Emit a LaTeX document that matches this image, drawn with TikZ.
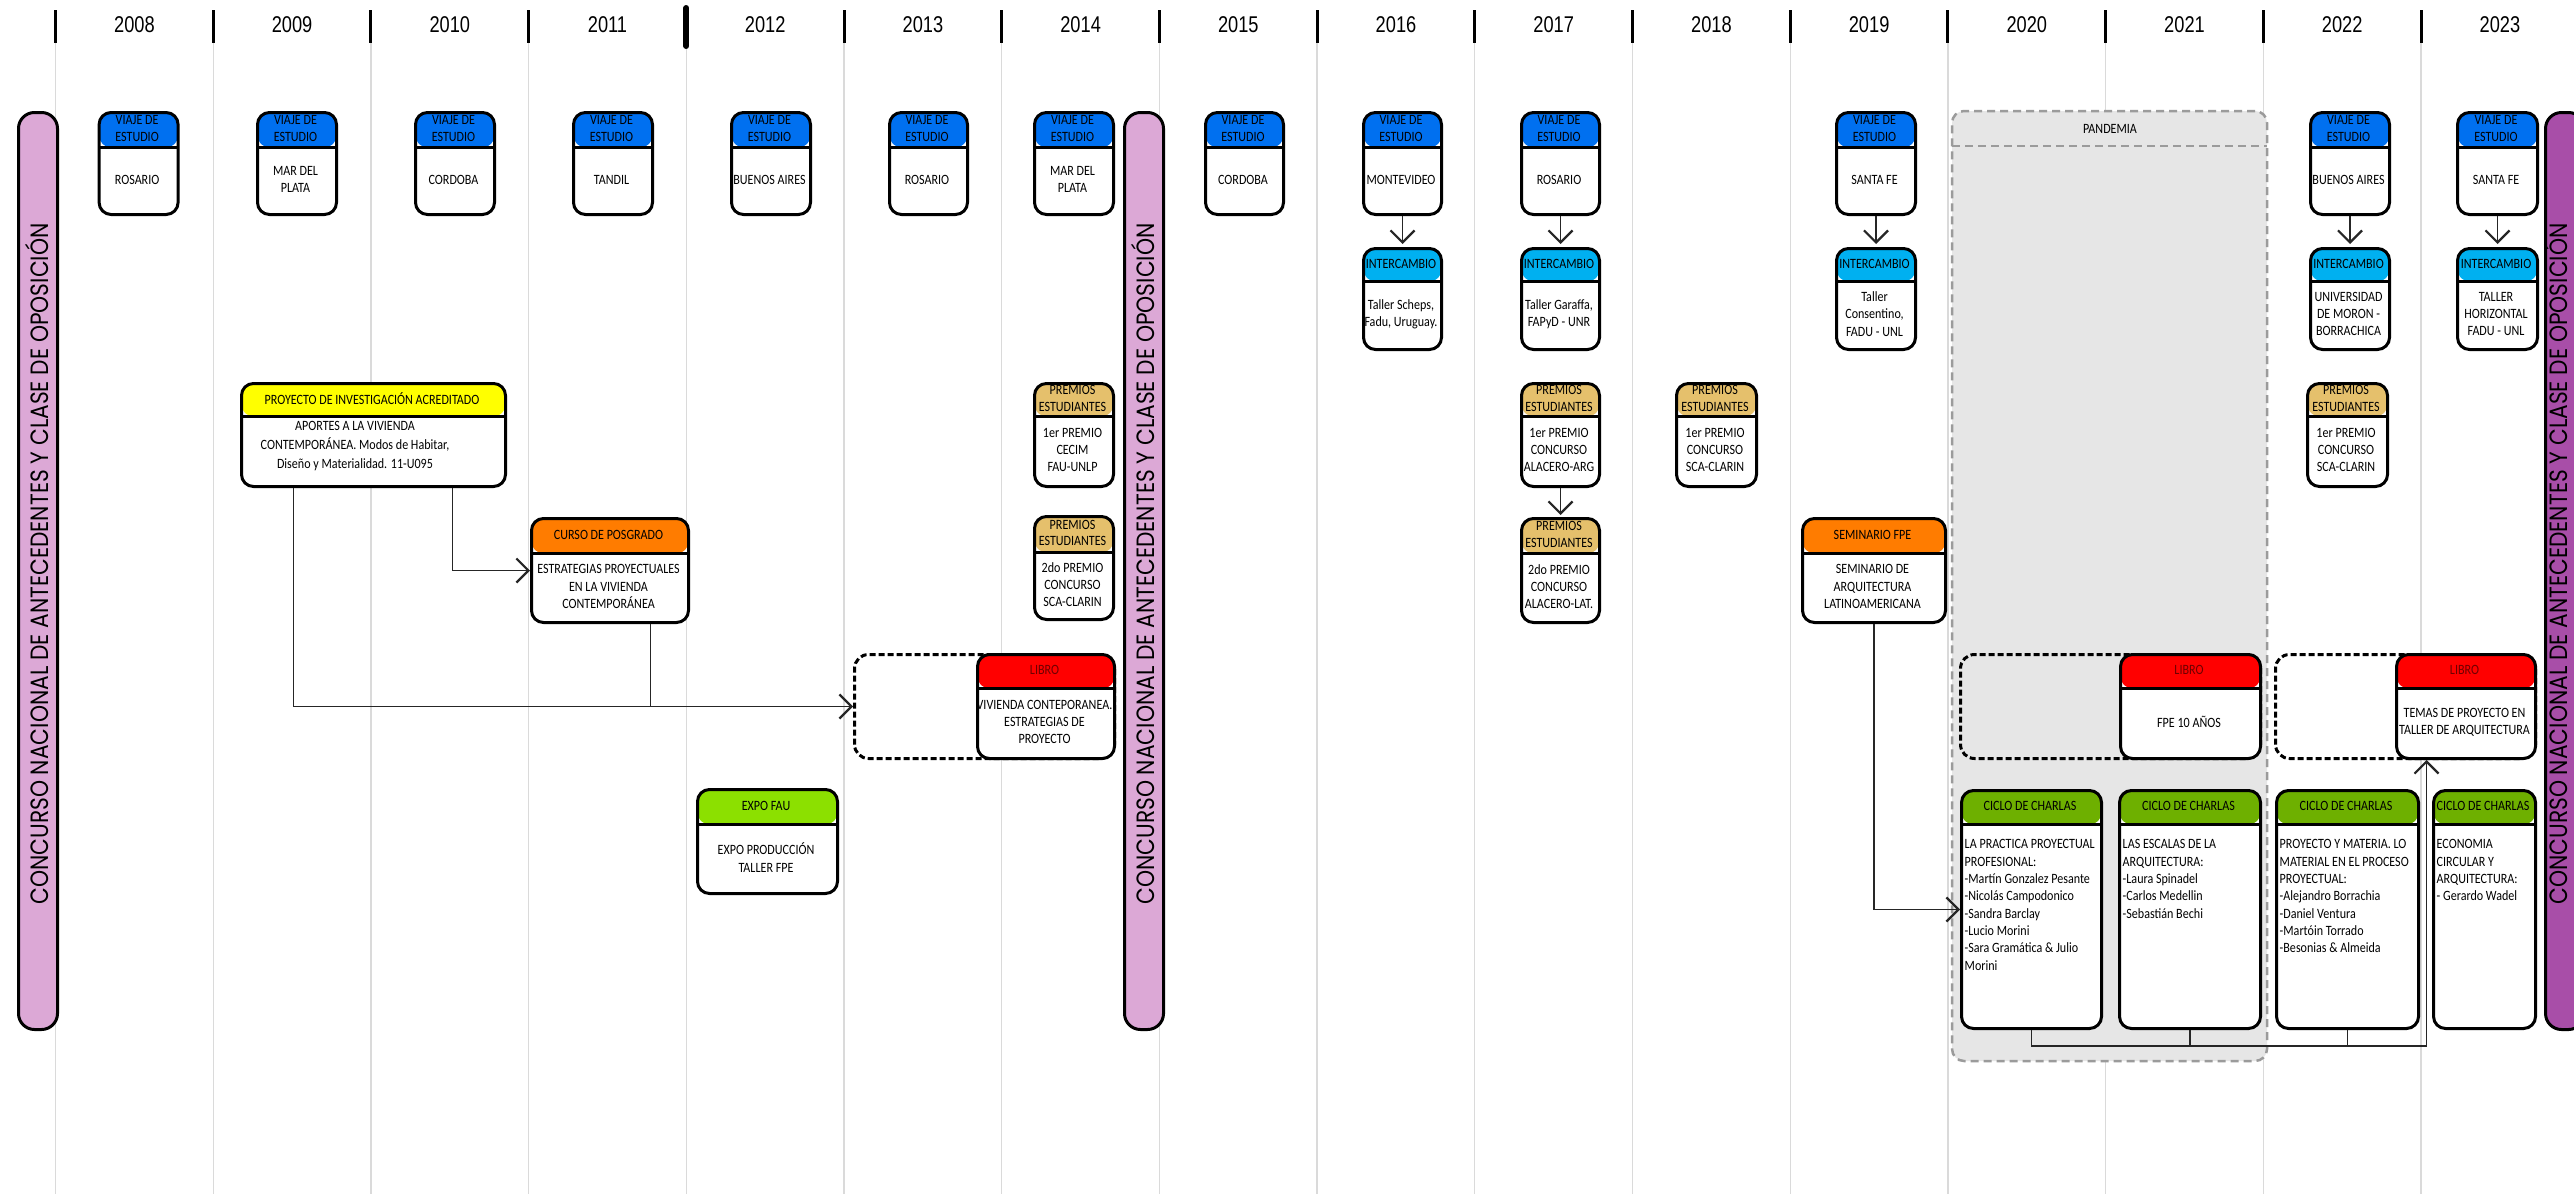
\documentclass[tikz,border=0pt]{standalone}
\usepackage{fontspec}
\setmainfont{Carlito}[FakeStretch=0.85]
\newfontfamily\yearfont{Liberation Sans}[FakeStretch=0.8]
\newfontfamily\vfont{Poppins}[FakeStretch=0.87]
\usetikzlibrary{arrows.meta,calc}
\definecolor{cviaje}{RGB}{0,112,240}
\definecolor{cinter}{RGB}{0,176,240}
\definecolor{cpremio}{RGB}{229,192,108}
\definecolor{cyellow}{RGB}{255,255,0}
\definecolor{corange}{RGB}{255,124,0}
\definecolor{cred}{RGB}{255,0,0}
\definecolor{cexpo}{RGB}{140,224,0}
\definecolor{cciclo}{RGB}{110,176,0}
\definecolor{cbarA}{RGB}{220,168,214}
\definecolor{cbarB}{RGB}{168,78,168}
\definecolor{cpandfill}{RGB}{230,230,230}
\definecolor{cpanddraw}{RGB}{155,155,155}
\definecolor{cgrid}{RGB}{218,218,218}
\definecolor{clibtext}{RGB}{110,0,0}
\tikzset{
  tbox/.style={draw=black, line width=3pt, rounded corners=12pt, fill=white, inner sep=0pt, anchor=north west},
  htext/.style={font=\fontsize{14.2}{16.8}\selectfont, align=center, inner sep=0pt},
  btext/.style={font=\fontsize{14.2}{17.3}\selectfont, align=center, inner sep=0pt},
  ltext/.style={font=\fontsize{14.2}{17.3}\selectfont, align=left, inner sep=0pt, anchor=north west},
  conn/.style={draw=black!85, line width=1.3pt},
  arr/.style={-{Straight Barb[length=12pt,width=24pt,line width=2.2pt]}},
  dbox/.style={draw=black, line width=3pt, dash pattern=on 6pt off 3pt, rounded corners=14pt, inner sep=0pt, anchor=north west},
  vbar/.style={draw=black, line width=3pt, rounded corners=16pt, inner sep=0pt, anchor=north west, minimum width=39pt, minimum height=917pt},
  vtext/.style={font=\vfont\fontsize{25}{25}\selectfont, rotate=90, inner sep=0pt},
  yearlab/.style={font=\yearfont\fontsize{22.8}{24}\selectfont, inner sep=0pt},
  gridline/.style={draw=cgrid, line width=1.3pt},
  tickline/.style={draw=black, line width=3pt},
  bigtick/.style={draw=black, line width=6pt, line cap=round},
  pandbox/.style={draw=cpanddraw, fill=cpandfill, line width=2.5pt, dash pattern=on 8pt off 5pt, rounded corners=12pt, inner sep=0pt, outer sep=0pt, anchor=north west},
}
% name, x1, y1, x2, y2, yheader, colour, header, body
\newcommand\tlbox[9]{%
  \node[tbox, minimum width={(#4-#2)*1pt}, minimum height={(#5-#3)*1pt},
    path picture={
      \fill[#7] (path picture bounding box.north west) rectangle ([yshift={-(#6-#3)*1pt}]path picture bounding box.north east);
      \draw[line width=3pt] ([yshift={-(#6-#3)*1pt}]path picture bounding box.north west) -- ([yshift={-(#6-#3)*1pt}]path picture bounding box.north east);
    }] (#1) at (#2,#3) {};
  \node[htext] (#1-h) at ({(#2+#4)/2},{(#3+#6)/2}) {#8};
  \node[btext] (#1-b) at ({(#2+#4)/2},{(#6+#5)/2}) {#9};
}
\newcommand\viaje[4]{\tlbox{#1}{#2}{111}{#3}{213}{146}{cviaje}{VIAJE DE\\ESTUDIO}{#4}}
\newcommand\inter[4]{\tlbox{#1}{#2}{247}{#3}{348}{280}{cinter}{INTERCAMBIO}{#4}}
\newcommand\premio[6]{\tlbox{#1}{#2}{#4}{#3}{#5}{#6}{cpremio}{PREMIOS\\ESTUDIANTES}}
\newcommand\libro[5]{%
  \node[dbox, minimum width={(#4-#2)*1pt}, minimum height=104pt] (#1d) at (#2,653) {};
  \tlbox{#1}{#3}{653}{#4}{757}{687}{cred}{\color{clibtext}LIBRO}{#5}}
\newcommand\ciclo[4]{%
  \tlbox{#1}{#2}{789}{#3}{1027}{823}{cciclo}{CICLO DE CHARLAS}{}
  \node[ltext] (#1-t) at ({#2+4.5},839.5) {#4};}
\begin{document}
\begin{tikzpicture}[x=1pt,y=-1pt]
\useasboundingbox[fill=white] (0,0) rectangle (2574,1194);
% grid
\foreach \i in {0,...,15} {\draw[gridline] ({55.5+157.7*\i},43) -- ({55.5+157.7*\i},1194);}
% pandemia
\node[pandbox, minimum width=315pt, minimum height=950pt] (pand) at (1952,111) {};
\draw[draw=cpanddraw, line width=2.5pt, dash pattern=on 8pt off 5pt] ([yshift=-35pt]pand.north west) -- ([yshift=-35pt]pand.north east);
\node[btext] (pandlab) at (2110,129) {PANDEMIA};
% ticks and years
\foreach \i in {0,1,2,3,5,6,...,15} {\draw[tickline] ({55.5+157.7*\i},10) -- ({55.5+157.7*\i},43);}
\draw[bigtick] (686.3,8) -- (686.3,46);
\foreach \yr [count=\i from 0] in {2008,...,2023} {\node[yearlab] (y\yr) at ({134.4+157.7*\i},25) {\yr};}
% bars
\node[vbar, fill=cbarA] (barA) at (17,111) {};
\node[vtext] (barA-t) at (37,564) {CONCURSO NACIONAL DE ANTECEDENTES Y CLASE DE OPOSICIÓN};
\node[vbar, fill=cbarA] (barB) at (1123,111) {};
\node[vtext] (barB-t) at (1142.5,564) {CONCURSO NACIONAL DE ANTECEDENTES Y CLASE DE OPOSICIÓN};
\node[vbar, fill=cbarB] (barC) at (2544,111) {};
\node[vtext] (barC-t) at (2556,564) {CONCURSO NACIONAL DE ANTECEDENTES Y CLASE DE OPOSICIÓN};
% viajes
\viaje{v08}{97.6}{176.6}{ROSARIO}
\viaje{v09}{256}{335}{MAR DEL\\PLATA}
\viaje{v10}{414}{493}{CORDOBA}
\viaje{v11}{572}{651}{TANDIL}
\viaje{v12}{730}{809}{BUENOS AIRES}
\viaje{v13}{888}{966}{ROSARIO}
\viaje{v14}{1033}{1112}{MAR DEL\\PLATA}
\viaje{v15}{1204}{1282}{CORDOBA}
\viaje{v16}{1362}{1440}{MONTEVIDEO}
\viaje{v17}{1520}{1598}{ROSARIO}
\viaje{v19}{1835}{1914}{SANTA FE}
\viaje{v22}{2309}{2388}{BUENOS AIRES}
\viaje{v23}{2456}{2536}{SANTA FE}
% intercambios
\inter{i16}{1362}{1440}{Taller Scheps,\\Fadu, Uruguay.}
\inter{i17}{1520}{1598}{Taller Garaffa,\\FAPyD - UNR}
\inter{i19}{1835}{1914}{Taller\\Consentino,\\FADU - UNL}
\inter{i22}{2309}{2388}{UNIVERSIDAD\\DE MORON -\\BORRACHICA}
\inter{i23}{2456}{2536}{TALLER\\HORIZONTAL\\FADU - UNL}
% premios
\premio{p14a}{1033}{1112}{382}{485}{415}{1er PREMIO\\CECIM\\FAU-UNLP}
\premio{p14b}{1033}{1112}{515}{618}{551}{2do PREMIO\\CONCURSO\\SCA-CLARIN}
\premio{p17a}{1520}{1598}{382}{485}{415}{1er PREMIO\\CONCURSO\\ALACERO-ARG}
\premio{p17b}{1520}{1598}{517}{621}{552}{2do PREMIO\\CONCURSO\\ALACERO-LAT.}
\premio{p18}{1675}{1755}{382}{485}{415}{1er PREMIO\\CONCURSO\\SCA-CLARIN}
\premio{p22}{2306}{2386}{382}{485}{415}{1er PREMIO\\CONCURSO\\SCA-CLARIN}
% proyecto, curso, seminario, expo
\tlbox{proy}{240}{382}{504}{485}{415}{cyellow}{PROYECTO DE INVESTIGACIÓN ACREDITADO}{}
\node[btext, font=\fontsize{14.2}{19}\selectfont] (proy-t) at (355,446.5) {APORTES A LA VIVIENDA\\CONTEMPORÁNEA. Modos de Habitar,\\Diseño y Materialidad. 11-U095};
\tlbox{curso}{530}{517}{687}{621}{552}{corange}{CURSO DE POSGRADO}{ESTRATEGIAS PROYECTUALES\\EN LA VIVIENDA\\CONTEMPORÁNEA}
\tlbox{sem}{1801}{517}{1944}{621}{552}{corange}{SEMINARIO FPE}{SEMINARIO DE\\ARQUITECTURA\\LATINOAMERICANA}
\tlbox{expo}{696}{788}{836}{892}{823}{cexpo}{EXPO FAU}{EXPO PRODUCCIÓN\\TALLER FPE}
% libros
\libro{lib14}{853}{976}{1113}{VIVIENDA CONTEPORANEA.\\ESTRATEGIAS DE\\PROYECTO}
\libro{lib21}{1959}{2119}{2259}{FPE 10 AÑOS}
\libro{lib23}{2274}{2395}{2534}{TEMAS DE PROYECTO EN\\TALLER DE ARQUITECTURA}
% ciclos
\ciclo{c20}{1960}{2100}{LA PRACTICA PROYECTUAL\\PROFESIONAL:\\-Martín Gonzalez Pesante\\-Nicolás Campodonico\\-Sandra Barclay\\-Lucio Morini\\-Sara Gramática \& Julio\\Morini}
\ciclo{c21}{2118}{2259}{LAS ESCALAS DE LA\\ARQUITECTURA:\\-Laura Spinadel\\-Carlos Medellin\\-Sebastián Bechi}
\ciclo{c22}{2275}{2417}{PROYECTO Y MATERIA. LO\\MATERIAL EN EL PROCESO\\PROYECTUAL:\\-Alejandro Borrachia\\-Daniel Ventura\\-Martóin Torrado\\-Besonias \& Almeida}
\ciclo{c23}{2432}{2534}{ECONOMIA\\CIRCULAR Y\\ARQUITECTURA:\\- Gerardo Wadel}
% connectors
\foreach \n in {16,17,19,22,23} {\draw[conn,arr,shorten >=3pt] (v\n.south) -- (i\n.north);}
\draw[conn,arr,shorten >=2pt] (p17a.south) -- (p17b.north);
\draw[conn,arr] ([xshift=79pt]proy.south) |- (curso.west);
\draw[conn,arr] ([xshift=-80pt]proy.south) |- (lib14d.west);
\draw[conn] ([xshift=40.5pt]curso.south) -- ([xshift=40.5pt]curso.south |- lib14d.west);
\draw[conn,arr] (sem.south) |- (c20.west);
\draw[conn,arr] (c20.south) -- ++(0,16) -| ([xshift=-39.5pt]lib23.south);
\draw[conn] (c21.south) -- ++(0,16);
\draw[conn] (c22.south) -- ++(0,16);
\end{tikzpicture}
\end{document}
